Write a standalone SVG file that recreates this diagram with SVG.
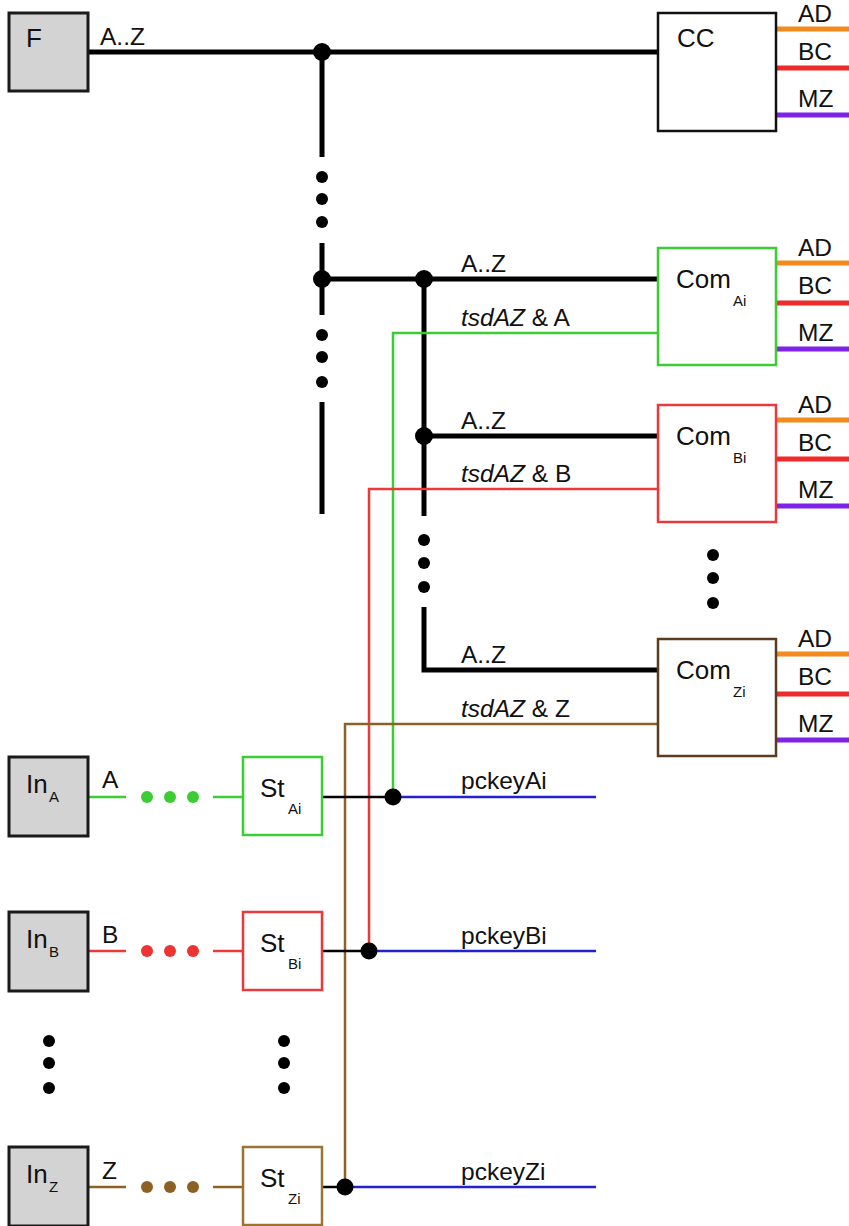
<svg xmlns="http://www.w3.org/2000/svg" width="849" height="1226" viewBox="0 0 849 1226">
<style>
text{font-family:"Liberation Sans",Arial,sans-serif;fill:#111;}
.lbl{font-size:24.5px;}
.nm{font-size:26px;}
.sub{font-size:15px;}
.it{font-style:italic;}
.bus{stroke:#000;stroke-width:5;fill:none;}
.thin{stroke:#000;stroke-width:2.5;fill:none;}
.gray{fill:#d3d3d3;stroke:#1a1a1a;stroke-width:3;}
.wbox{fill:#fff;stroke-width:2.5;}
.og{stroke:#f28a1c;stroke-width:5;}
.rd{stroke:#ee2a2a;stroke-width:5;}
.pu{stroke:#7d22e6;stroke-width:5;}
.gr{stroke:#3ccc33;stroke-width:2.5;fill:none;}
.rl{stroke:#ec3a3a;stroke-width:2.5;fill:none;}
.br{stroke:#8c6224;stroke-width:2.5;fill:none;}
.bl{stroke:#2222cc;stroke-width:2.5;fill:none;}
.dot{fill:#000;}
</style>
<g id="connectors">
  <line class="bus" x1="88" y1="52" x2="658" y2="52"/>
  <line class="bus" x1="322" y1="52" x2="322" y2="157"/>
  <circle class="dot" cx="322" cy="177" r="6"/><circle class="dot" cx="322" cy="199" r="6"/><circle class="dot" cx="322" cy="222" r="6"/>
  <line class="bus" x1="322" y1="243" x2="322" y2="315"/>
  <circle class="dot" cx="322" cy="335" r="6"/><circle class="dot" cx="322" cy="357" r="6"/><circle class="dot" cx="322" cy="382" r="6"/>
  <line class="bus" x1="322" y1="402" x2="322" y2="514"/>
  <line class="bus" x1="322" y1="279" x2="658" y2="279"/>
  <line class="bus" x1="424" y1="279" x2="424" y2="516"/>
  <line class="bus" x1="424" y1="436" x2="658" y2="436"/>
  <circle class="dot" cx="424" cy="540" r="6"/><circle class="dot" cx="424" cy="563" r="6"/><circle class="dot" cx="424" cy="587" r="6"/>
  <polyline class="bus" points="424,607 424,670 658,670"/>
  <circle class="dot" cx="322" cy="52" r="9"/>
  <circle class="dot" cx="322" cy="279" r="9"/>
  <circle class="dot" cx="424" cy="279" r="9"/>
  <circle class="dot" cx="424" cy="436" r="9"/>
  <circle class="dot" cx="713" cy="555" r="6"/><circle class="dot" cx="713" cy="578" r="6"/><circle class="dot" cx="713" cy="603" r="6"/>

  <polyline class="gr" points="658,333 393,333 393,797"/>
  <polyline class="rl" points="658,489 369,489 369,951"/>
  <polyline class="br" points="658,724 345,724 345,1187"/>

  <line class="og" x1="776" y1="29" x2="849" y2="29"/>
  <line class="rd" x1="776" y1="68" x2="849" y2="68"/>
  <line class="pu" x1="776" y1="115" x2="849" y2="115"/>
  <line class="og" x1="776" y1="263" x2="849" y2="263"/>
  <line class="rd" x1="776" y1="303" x2="849" y2="303"/>
  <line class="pu" x1="776" y1="349" x2="849" y2="349"/>
  <line class="og" x1="776" y1="420" x2="849" y2="420"/>
  <line class="rd" x1="776" y1="459" x2="849" y2="459"/>
  <line class="pu" x1="776" y1="506" x2="849" y2="506"/>
  <line class="og" x1="776" y1="654" x2="849" y2="654"/>
  <line class="rd" x1="776" y1="694" x2="849" y2="694"/>
  <line class="pu" x1="776" y1="740" x2="849" y2="740"/>

  <line class="gr" x1="88" y1="797" x2="126" y2="797"/>
  <circle cx="147" cy="797" r="6" fill="#3ccc33"/><circle cx="170" cy="797" r="6" fill="#3ccc33"/><circle cx="193" cy="797" r="6" fill="#3ccc33"/>
  <line class="gr" x1="213" y1="797" x2="243" y2="797"/>
  <line class="rl" x1="88" y1="951" x2="126" y2="951"/>
  <circle cx="147" cy="951" r="6" fill="#ee3333"/><circle cx="170" cy="951" r="6" fill="#ee3333"/><circle cx="193" cy="951" r="6" fill="#ee3333"/>
  <line class="rl" x1="213" y1="951" x2="243" y2="951"/>
  <line class="br" x1="88" y1="1187" x2="126" y2="1187"/>
  <circle cx="147" cy="1187" r="6" fill="#8c6224"/><circle cx="170" cy="1187" r="6" fill="#8c6224"/><circle cx="193" cy="1187" r="6" fill="#8c6224"/>
  <line class="br" x1="213" y1="1187" x2="243" y2="1187"/>

  <line class="thin" x1="322" y1="797" x2="393" y2="797"/>
  <line class="bl" x1="393" y1="797" x2="596" y2="797"/>
  <line class="thin" x1="322" y1="951" x2="369" y2="951"/>
  <line class="bl" x1="369" y1="951" x2="596" y2="951"/>
  <line class="thin" x1="322" y1="1187" x2="345" y2="1187"/>
  <line class="bl" x1="345" y1="1187" x2="596" y2="1187"/>
  <circle class="dot" cx="393" cy="797" r="8.5"/>
  <circle class="dot" cx="369" cy="951" r="8.5"/>
  <circle class="dot" cx="345" cy="1187" r="8.5"/>

  <circle class="dot" cx="49" cy="1041" r="6"/><circle class="dot" cx="49" cy="1063" r="6"/><circle class="dot" cx="49" cy="1088" r="6"/>
  <circle class="dot" cx="284" cy="1041" r="6"/><circle class="dot" cx="284" cy="1063" r="6"/><circle class="dot" cx="284" cy="1088" r="6"/>

  <text class="lbl" x="100" y="45">A..Z</text>
  <text class="lbl" x="461" y="272">A..Z</text>
  <text class="lbl" x="461" y="429">A..Z</text>
  <text class="lbl" x="461" y="663">A..Z</text>
  <text class="lbl" x="461" y="326"><tspan class="it">tsdAZ</tspan> &amp; A</text>
  <text class="lbl" x="461" y="482"><tspan class="it">tsdAZ</tspan> &amp; B</text>
  <text class="lbl" x="461" y="717"><tspan class="it">tsdAZ</tspan> &amp; Z</text>
  <text class="lbl" x="461" y="789">pckeyAi</text>
  <text class="lbl" x="461" y="944">pckeyBi</text>
  <text class="lbl" x="461" y="1180">pckeyZi</text>
  <text class="lbl" x="102" y="788">A</text>
  <text class="lbl" x="102" y="943">B</text>
  <text class="lbl" x="102" y="1179">Z</text>
  <text class="lbl" x="798" y="22">AD</text>
  <text class="lbl" x="798" y="60">BC</text>
  <text class="lbl" x="798" y="107">MZ</text>
  <text class="lbl" x="798" y="256">AD</text>
  <text class="lbl" x="798" y="294">BC</text>
  <text class="lbl" x="798" y="341">MZ</text>
  <text class="lbl" x="798" y="413">AD</text>
  <text class="lbl" x="798" y="451">BC</text>
  <text class="lbl" x="798" y="498">MZ</text>
  <text class="lbl" x="798" y="647">AD</text>
  <text class="lbl" x="798" y="685">BC</text>
  <text class="lbl" x="798" y="732">MZ</text>
</g>
<g id="F"><rect class="gray" x="9" y="13" width="79" height="78"/><text class="nm" x="26" y="47">F</text></g>
<g id="CC"><rect class="wbox" stroke="#111" x="658" y="13" width="118" height="118"/><text class="nm" x="677" y="47">CC</text></g>
<g id="ComAi"><rect class="wbox" stroke="#3ccc33" x="658" y="248" width="118" height="117"/><text class="nm" x="676" y="288">Com</text><text class="sub" x="733" y="306">Ai</text></g>
<g id="ComBi"><rect class="wbox" stroke="#e83a3d" x="658" y="405" width="118" height="117"/><text class="nm" x="676" y="445">Com</text><text class="sub" x="733" y="463">Bi</text></g>
<g id="ComZi"><rect class="wbox" stroke="#5b3c1f" x="658" y="639" width="118" height="117"/><text class="nm" x="676" y="679">Com</text><text class="sub" x="733" y="697">Zi</text></g>
<g id="InA"><rect class="gray" x="9" y="757" width="79" height="79"/><text class="nm" x="26" y="793">In</text><text class="sub" x="49" y="802">A</text></g>
<g id="InB"><rect class="gray" x="9" y="912" width="79" height="79"/><text class="nm" x="26" y="948">In</text><text class="sub" x="49" y="957">B</text></g>
<g id="InZ"><rect class="gray" x="9" y="1147" width="79" height="79"/><text class="nm" x="26" y="1183">In</text><text class="sub" x="49" y="1192">Z</text></g>
<g id="StAi"><rect class="wbox" stroke="#3ccc33" x="243" y="757" width="79" height="78"/><text class="nm" x="260" y="797">St</text><text class="sub" x="288" y="814">Ai</text></g>
<g id="StBi"><rect class="wbox" stroke="#e83a3d" x="243" y="912" width="79" height="78"/><text class="nm" x="260" y="952">St</text><text class="sub" x="288" y="969">Bi</text></g>
<g id="StZi"><rect class="wbox" stroke="#9b7431" x="243" y="1147" width="79" height="78"/><text class="nm" x="260" y="1187">St</text><text class="sub" x="288" y="1204">Zi</text></g>
</svg>
